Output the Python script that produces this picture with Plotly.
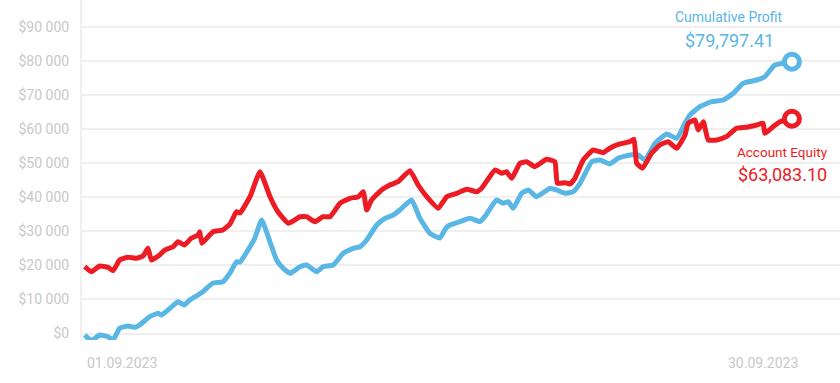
import plotly.graph_objects as go

# ---- data (days since 01.09.2023, values in thousands USD) ----
profit_days = [0.03, 0.30, 0.64, 0.98, 1.19, 1.46, 1.80, 2.08, 2.28, 2.69, 3.03, 3.17, 3.44, 3.85, 4.10,
               4.33, 4.67, 4.87, 5.28, 5.69, 5.98, 6.25, 6.39, 6.80, 7.00, 7.28, 7.62, 7.89, 8.15, 8.44,
               8.85, 9.12, 9.53, 9.79, 10.21, 10.62, 11.03, 11.31, 11.58, 11.99, 12.33, 12.67, 12.94,
               13.42, 13.76, 14.17, 14.58, 14.83, 14.99, 15.40, 15.81, 16.22, 16.42, 16.90, 17.17, 17.38,
               17.58, 17.93, 18.20, 18.54, 19.09, 19.36, 19.70, 20.04, 20.32, 20.80, 21.14, 21.54, 21.88,
               22.36, 22.70, 22.98, 23.39, 23.87, 24.28, 24.62, 24.82, 25.23, 25.71, 26.19, 26.60, 27.00,
               27.55, 27.89, 28.30, 28.58, 29.00]
profit_k = [-0.44, -2.11, -0.44, -0.94, -1.91, 1.53, 2.20, 1.82, 2.50, 4.93, 5.93, 5.43, 6.90, 9.34, 8.37,
            9.84, 11.31, 12.28, 14.83, 15.21, 17.77, 21.09, 21.00, 25.49, 28.05, 33.34, 26.87, 21.59, 19.24,
            17.68, 19.62, 20.12, 18.15, 19.62, 20.12, 23.55, 25.02, 25.49, 27.46, 31.87, 33.83, 34.80, 36.27,
            39.21, 33.83, 29.43, 28.05, 30.99, 31.87, 32.84, 33.83, 32.84, 34.30, 39.21, 38.24, 38.71,
            36.77, 41.18, 42.15, 40.18, 42.65, 42.15, 41.18, 41.65, 44.11, 50.46, 50.96, 49.78, 51.46,
            52.43, 52.43, 50.96, 55.86, 58.59, 57.33, 61.74, 64.17, 66.61, 68.08, 68.58, 70.55, 73.48,
            74.45, 75.42, 78.86, 79.30, 79.797]

equity_days = [0.03, 0.30, 0.64, 0.98, 1.19, 1.46, 1.80, 2.14, 2.42, 2.62, 2.76, 3.10, 3.31, 3.65, 3.85,
               4.12, 4.39, 4.67, 4.74, 4.83, 5.28, 5.69, 5.98, 6.25, 6.39, 6.80, 7.21, 7.62, 7.95, 8.37,
               8.85, 9.12, 9.46, 9.79, 10.08, 10.49, 10.90, 11.24, 11.44, 11.58, 11.78, 12.19, 12.53, 12.87,
               13.35, 13.69, 14.04, 14.51, 14.86, 15.27, 15.68, 16.09, 16.29, 16.84, 17.11, 17.31, 17.52,
               17.86, 18.13, 18.47, 18.95, 19.29, 19.39, 19.70, 19.91, 20.11, 20.45, 20.86, 21.27, 21.54,
               21.95, 22.36, 22.53, 22.64, 22.88, 23.25, 23.59, 23.93, 24.28, 24.62, 24.75, 25.03, 25.16,
               25.37, 25.57, 25.92, 26.32, 26.73, 27.14, 27.55, 27.82, 27.89, 28.23, 28.51, 29.00]
equity_k = [19.62, 18.15, 19.82, 19.44, 18.44, 21.59, 22.38, 22.09, 22.76, 25.02, 21.59, 23.06, 24.52, 25.49,
            26.96, 25.99, 27.96, 28.93, 29.90, 26.49, 29.90, 30.40, 32.16, 35.77, 35.39, 40.18, 47.52, 40.18,
            35.69, 32.37, 34.30, 34.30, 32.84, 34.30, 34.30, 38.24, 39.71, 40.18, 41.65, 36.27, 39.21, 42.15,
            43.61, 44.58, 47.81, 43.61, 40.18, 36.77, 40.18, 41.18, 42.35, 41.65, 42.65, 48.02, 47.05, 47.52,
            45.58, 49.99, 50.46, 48.99, 51.16, 50.46, 44.11, 44.29, 43.91, 45.58, 50.96, 53.89, 53.10, 54.39,
            55.66, 56.33, 57.04, 49.99, 48.52, 52.92, 55.36, 56.33, 54.39, 58.30, 61.74, 62.70, 59.77, 62.21,
            56.83, 56.83, 57.80, 60.27, 60.56, 61.24, 61.74, 58.80, 60.74, 62.21, 63.0831]

y_tick_vals = [0, 10000, 20000, 30000, 40000, 50000, 60000, 70000, 80000, 90000]
y_tick_text = ["$0", "$10 000", "$20 000", "$30 000", "$40 000", "$50 000", "$60 000", "$70 000",
               "$80 000", "$90 000"]
x_labels = ["01.09.2023", "30.09.2023"]
profit_title, profit_label = "Cumulative Profit", "$79,797.41"
equity_title, equity_label = "Account Equity", "$63,083.10"

BLUE = "#5ab6e4"
RED = "#ed1c24"
GREY_TXT = "#c8c8c8"
GRID = "#efefef"

profit = [v * 1000 for v in profit_k]
equity = [v * 1000 for v in equity_k]

fig = go.Figure()
fig.add_trace(go.Scatter(x=profit_days, y=profit, mode="lines",
                         line=dict(color=BLUE, width=5, shape="spline", smoothing=0.4),
                         hoverinfo="skip"))
fig.add_trace(go.Scatter(x=equity_days, y=equity, mode="lines",
                         line=dict(color=RED, width=5, shape="spline", smoothing=0.4),
                         hoverinfo="skip"))
fig.add_trace(go.Scatter(x=[profit_days[-1]], y=[profit[-1]], mode="markers",
                         marker=dict(size=15, color="white", line=dict(color=BLUE, width=5)),
                         hoverinfo="skip"))
fig.add_trace(go.Scatter(x=[equity_days[-1]], y=[equity[-1]], mode="markers",
                         marker=dict(size=15, color="white", line=dict(color=RED, width=5)),
                         hoverinfo="skip"))

W, H = 840, 383
L, R, T, B = 82, 0, 0, 43
pw, ph = W - L - R, H - T - B

def px(x):
    return (x - L) / pw

def py(y):
    return (H - B - y) / ph

annots = [
    dict(text=profit_title, x=px(729), y=py(17), font=dict(size=14, color=BLUE), xanchor="center"),
    dict(text=profit_label, x=px(729), y=py(40), font=dict(size=18, color=BLUE), xanchor="center"),
    dict(text=equity_title, x=px(782), y=py(152), font=dict(size=13.5, color=RED), xanchor="center"),
    dict(text=equity_label, x=px(782), y=py(175), font=dict(size=18, color=RED), xanchor="center"),
    dict(text=x_labels[0], x=px(85), y=py(363), font=dict(size=14, color=GREY_TXT), xanchor="left"),
    dict(text=x_labels[1], x=px(800), y=py(363), font=dict(size=14, color=GREY_TXT), xanchor="right"),
]
for a in annots:
    a.update(xref="paper", yref="paper", yanchor="middle", showarrow=False)

fig.update_layout(
    width=W, height=H,
    margin=dict(l=L, r=R, t=T, b=B),
    paper_bgcolor="white", plot_bgcolor="white",
    showlegend=False,
    font=dict(family="Roboto", size=14, color=GREY_TXT),
    annotations=annots,
    xaxis=dict(range=[-0.082, 30.97], showgrid=False, zeroline=False, showticklabels=False,
               showline=False, fixedrange=True),
    yaxis=dict(range=[-1909, 97944], tickvals=y_tick_vals, ticktext=y_tick_text,
               showgrid=True, gridcolor=GRID, gridwidth=2, zeroline=False,
               showline=True, linecolor=GRID, linewidth=2, ticks="", ticklen=0,
               ticklabelstandoff=8,
               tickfont=dict(family="Roboto", size=14, color=GREY_TXT), fixedrange=True),
)

fig.write_html("out.html", config={"displayModeBar": False})
